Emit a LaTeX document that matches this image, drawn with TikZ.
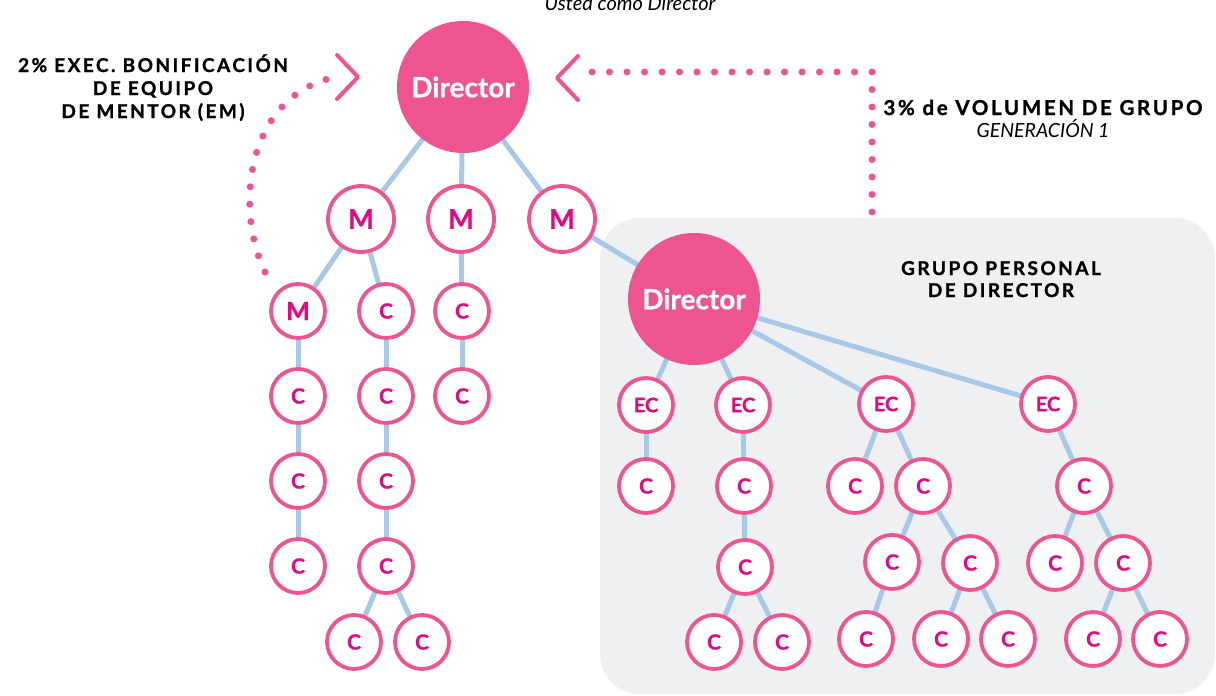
\documentclass[tikz,border=0pt]{standalone}
\usepackage{fontspec}
\setmainfont{Lato}[BoldFeatures={FakeBold=0.8}]
\newfontfamily\lbl{Lato}[LetterSpace=13,BoldFeatures={FakeBold=1.2}]
\definecolor{pinkc}{HTML}{EE5490}
\definecolor{mag}{HTML}{E10A80}
\definecolor{edgeb}{HTML}{A7C9E7}
\definecolor{boxg}{HTML}{EFF0F2}
\pgfdeclarelayer{boxlayer}
\pgfdeclarelayer{edgelayer}
\pgfsetlayers{boxlayer,edgelayer,main}
\begin{document}
\begin{tikzpicture}[x=1pt,y=-1pt,
  dirn/.style={circle,fill=pinkc,minimum size=132pt,inner sep=0pt,text=white,font=\bfseries\fontsize{28}{28}\selectfont},
  mem/.style={circle,draw=pinkc,line width=3.8pt,fill=white,minimum size=66pt,inner sep=0pt,text=mag,font=\bfseries\fontsize{27}{27}\selectfont},
  cn/.style={circle,draw=pinkc,line width=3.8pt,fill=white,minimum size=54pt,inner sep=0pt,text=mag,font=\bfseries\fontsize{21}{21}\selectfont},
  ecn/.style={cn,font=\bfseries\fontsize{20}{20}\selectfont},
  mn/.style={cn,font=\bfseries\fontsize{25}{25}\selectfont},
  link/.style={draw=edgeb,line width=5pt},
  dots/.style={draw=pinkc,line width=7pt,line cap=round,dash pattern=on 0pt off 17.5pt},
  chev/.style={draw=pinkc,line width=4pt,line cap=round,line join=round},
  lab/.style={font=\lbl\bfseries\fontsize{19}{19}\selectfont,anchor=base,inner sep=0pt},
  sub/.style={font=\itshape\fontsize{20}{20}\selectfont,anchor=base,inner sep=0pt}
]
\useasboundingbox (0,0) rectangle (1216,696);
\begin{pgfonlayer}{boxlayer}
\fill[boxg,rounded corners=40pt] (600,218) rectangle (1215,694);
\end{pgfonlayer}
% top caption (cut off at the top edge, as in the reference)
\node[sub] (top) at (630,10) {Usted como Director};
% labels
\node[lab] (l1) at (153,72) {2\% EXEC. BONIFICACIÓN};
\node[lab] (l2) at (153,95) {DE EQUIPO};
\node[lab] (l3) at (153,118) {DE MENTOR (EM)};
\node[lab,font=\lbl\bfseries\fontsize{20.5}{20.5}\selectfont] (r1) at (1043,115) {3\% de VOLUMEN DE GRUPO};
\node[sub,font=\itshape\fontsize{19.5}{19.5}\selectfont] (r2) at (1043,137) {GENERACIÓN 1};
\node[lab] (g1) at (1001,275) {GRUPO PERSONAL};
\node[lab] (g2) at (1001,297) {DE DIRECTOR};
% left tree
\node[dirn] (D1) at (463,87) {Director};
\node[mem] (M1) at (361,219) {M};
\node[mem] (M2) at (461,219) {M};
\node[mem] (M3) at (562,219) {M};
\node[mn] (L1) at (298,311) {M};
\node[cn] (L2) at (386,311) {C};
\node[cn] (L3) at (462,311) {C};
\node[cn] (L1a) at (298,396) {C};
\node[cn] (L1b) at (298,481) {C};
\node[cn] (L1c) at (298,566) {C};
\node[cn] (L2a) at (386,396) {C};
\node[cn] (L2b) at (386,481) {C};
\node[cn] (L2c) at (386,566) {C};
\node[cn] (L2d) at (354,642) {C};
\node[cn] (L2e) at (422,642) {C};
\node[cn] (L3a) at (462,396) {C};
% right tree
\node[dirn] (D2) at (694,299) {Director};
\node[ecn] (E1) at (646,405) {EC};
\node[ecn] (E2) at (743,405) {EC};
\node[ecn] (E3) at (886,404) {EC};
\node[ecn] (E4) at (1048,404) {EC};
\node[cn] (E1a) at (646,486) {C};
\node[cn] (E2a) at (744,486) {C};
\node[cn] (E2b) at (745,567) {C};
\node[cn] (E2c) at (714,642) {C};
\node[cn] (E2d) at (782,642) {C};
\node[cn] (E3a) at (855,486) {C};
\node[cn] (E3b) at (923,486) {C};
\node[cn] (E3c) at (892,562) {C};
\node[cn] (E3d) at (970,563) {C};
\node[cn] (E3e) at (866,639) {C};
\node[cn] (E3f) at (941,639) {C};
\node[cn] (E3g) at (1008,639) {C};
\node[cn] (E4a) at (1084,486) {C};
\node[cn] (E4b) at (1055,563) {C};
\node[cn] (E4c) at (1123,563) {C};
\node[cn] (E4d) at (1093,639) {C};
\node[cn] (E4e) at (1160,639) {C};
\begin{pgfonlayer}{edgelayer}
\foreach \a/\b in {D1/M1,D1/M2,D1/M3,M1/L1,M1/L2,M2/L3,L1/L1a,L1a/L1b,L1b/L1c,
  L2/L2a,L2a/L2b,L2b/L2c,L2c/L2d,L2c/L2e,L3/L3a,M3/D2,
  D2/E1,D2/E2,D2/E3,D2/E4,E1/E1a,E2/E2a,E2a/E2b,E2b/E2c,E2b/E2d,
  E3/E3a,E3/E3b,E3b/E3c,E3b/E3d,E3c/E3e,E3d/E3f,E3d/E3g,
  E4/E4a,E4a/E4b,E4a/E4c,E4c/E4d,E4c/E4e}
  \draw[link] (\a.center) -- (\b.center);
\end{pgfonlayer}
% dotted arrows
\coordinate (ls) at (265,272);
\coordinate (le) at (331,78);
\coordinate (lt) at (358,77);
\draw[dots] (ls) .. controls (235,210) and (245,100) .. (le);
\draw[chev] (337,55) -- (lt) -- (337,99);
\coordinate (rs) at (872,212);
\coordinate (rc) at (872,72);
\coordinate (re) at (590,72);
\coordinate (rt) at (557,78);
\draw[dots] (rs) -- (rc) -- (re);
\draw[chev] (578,56) -- (rt) -- (578,100);
\end{tikzpicture}
\end{document}
